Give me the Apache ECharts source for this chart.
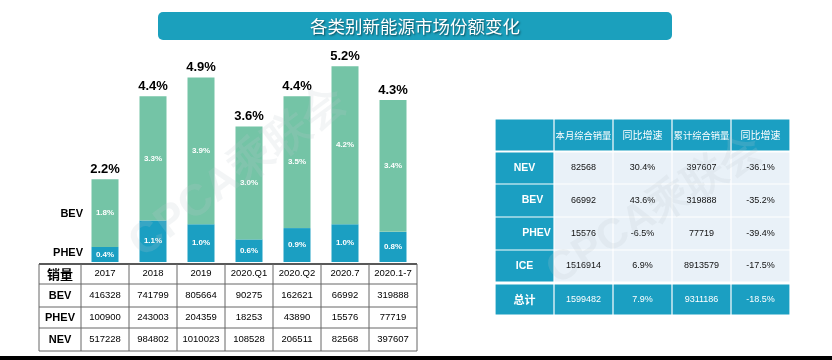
<!DOCTYPE html>
<html><head><meta charset="utf-8">
<script src="https://cdn.jsdelivr.net/npm/echarts@6/dist/echarts.min.js"></script>
<style>html,body{margin:0;padding:0;background:#fff}#c{width:832px;height:360px}</style>
</head><body><div id="c"></div>
<script>
// ---------- data ----------
const categories = ['2017','2018','2019','2020.Q1','2020.Q2','2020.7','2020.1-7'];
const bevShare = [1.8,3.3,3.9,3.0,3.5,4.2,3.5];
const bevShareLabels = ['1.8%','3.3%','3.9%','3.0%','3.5%','4.2%','3.4%'];
const phevShare = [0.4,1.1,1.0,0.6,0.9,1.0,0.8];
const totalShare = [2.2,4.4,4.9,3.6,4.4,5.2,4.3];
const bevSales = [416328,741799,805664,90275,162621,66992,319888];
const phevSales = [100900,243003,204359,18253,43890,15576,77719];
const nevSales = [517228,984802,1010023,108528,206511,82568,397607];
const leftTableCorner = '销量';
const leftTableRows = ['BEV','PHEV','NEV'];
const rightHeaders = ['','本月综合销量','同比增速','累计综合销量','同比增速'];
const rightRowNames = ['NEV','BEV','PHEV','ICE','总计'];
const monthSales = [82568,66992,15576,1516914,1599482];
const monthYoy = ['30.4%','43.6%','-6.5%','6.9%','7.9%'];
const cumSales = [397607,319888,77719,8913579,9311186];
const cumYoy = ['-36.1%','-35.2%','-39.4%','-17.5%','-18.5%'];
const titleText = '各类别新能源市场份额变化';
const watermark = 'CPCA乘联会';

// ---------- layout / style ----------
const TEAL = '#1b9fc2';
const GREEN = '#74c4a6';
const LATIN = '"Liberation Sans", Arial, sans-serif';
const CJK = '"Noto Sans CJK SC", sans-serif';
const g = [];

// title banner
g.push({type:'rect', shape:{x:158,y:12,width:514,height:28,r:5}, style:{fill:'#1ba0bd'}, z:1});
g.push({type:'text', x:415, y:26.5, style:{text:titleText, font:'17.5px '+CJK, fill:'#fff', align:'center', verticalAlign:'middle',
  textShadowColor:'rgba(0,0,0,0.55)', textShadowBlur:2, textShadowOffsetX:1, textShadowOffsetY:1}, z:2});

// left side legend-ish labels
g.push({type:'text', x:83, y:214, style:{text:'BEV', font:'bold 11px '+LATIN, fill:'#000', align:'right', verticalAlign:'middle'}});
g.push({type:'text', x:83, y:253, style:{text:'PHEV', font:'bold 11px '+LATIN, fill:'#000', align:'right', verticalAlign:'middle'}});

// left table
const colX = [39,81,129,177,225,273,321,369,417];
const rowY = [264,284,307,328,351];
const leftRowsData = [bevSales, phevSales, nevSales];
for (let i=0;i<rowY.length;i++){
  g.push({type:'line', shape:{x1:39,y1:rowY[i],x2:417,y2:rowY[i]}, style:{stroke: i===0?'#222':'#666', lineWidth: i===0?1.5:1}, z:5});
}
for (let j=0;j<colX.length;j++){
  g.push({type:'line', shape:{x1:colX[j],y1:264,x2:colX[j],y2:351}, style:{stroke:'#666', lineWidth:1}, z:5});
}
const cy = r => (rowY[r]+rowY[r+1])/2;
const cx = c => (colX[c]+colX[c+1])/2;
g.push({type:'text', x:cx(0), y:cy(0), style:{text:leftTableCorner, font:'bold 13px '+CJK, fill:'#000', align:'center', verticalAlign:'middle'}, z:6});
categories.forEach((c,k)=>{
  g.push({type:'text', x:cx(k+1), y:cy(0)-1, style:{text:c, font:'9.5px '+LATIN, fill:'#000', align:'center', verticalAlign:'middle'}, z:6});
});
leftTableRows.forEach((name,r)=>{
  g.push({type:'text', x:cx(0), y:cy(r+1), style:{text:name, font:'bold 11px '+LATIN, fill:'#000', align:'center', verticalAlign:'middle'}, z:6});
  leftRowsData[r].forEach((v,k)=>{
    g.push({type:'text', x:cx(k+1), y:cy(r+1), style:{text:String(v), font:'9.5px '+LATIN, fill:'#000', align:'center', verticalAlign:'middle'}, z:6});
  });
});

// right table
const rcX = [495,554,613,672,731,790];
const rrY = [[119,151],[152,184],[184,217],[217,250],[250,282],[284,315]];
const rowIndent = [0,8,12,0,0];
const rightCols = [monthSales, monthYoy, cumSales, cumYoy];
rrY.forEach((ry,r)=>{
  for (let c=0;c<5;c++){
    const header = r===0, total = r===rrY.length-1, first = c===0;
    const fill = (header||total||first) ? TEAL : '#e9f1f8';
    g.push({type:'rect', shape:{x:rcX[c]+0.6, y:ry[0]+0.6, width:rcX[c+1]-rcX[c]-1.2, height:ry[1]-ry[0]-1.2}, style:{fill}, z:3});
    let text='', font='9px '+LATIN, color='#111', dx=0;
    if (header){ text = rightHeaders[c]; font = (text.length>4?'9.3px ':'10px ')+CJK; color='#fff'; }
    else if (first){ text = rightRowNames[r-1]; font = (/[A-Z]/.test(text)?'bold 10.5px '+LATIN:'bold 11px '+CJK); color='#fff'; dx=rowIndent[r-1]; }
    else { text = String(rightCols[c-1][r-1]); if (total) color='#fff'; }
    if (text) g.push({type:'text', x:(rcX[c]+rcX[c+1])/2+dx, y:(ry[0]+ry[1])/2, style:{text, font, fill:color, align:'center', verticalAlign:'middle'}, z:4});
  }
});

// watermarks
g.push({type:'text', x:238, y:172, rotation:0.64, style:{text:watermark, font:'bold 44px '+LATIN, fill:'rgba(190,200,205,0.18)', align:'center', verticalAlign:'middle'}, z:20});
g.push({type:'text', x:655, y:210, rotation:0.56, style:{text:watermark, font:'bold 42px '+LATIN, fill:'rgba(190,200,205,0.18)', align:'center', verticalAlign:'middle'}, z:20});

// bottom black strip
g.push({type:'rect', shape:{x:0,y:356,width:832,height:4}, style:{fill:'#000'}, z:30});

const chart = echarts.init(document.getElementById('c'), null, {renderer:'canvas'});
chart.setOption({
  animation:false,
  backgroundColor:'#fff',
  grid:{left:81, width:336, top:36, bottom:98},
  xAxis:{type:'category', data:categories, axisLine:{show:false}, axisTick:{show:false}, axisLabel:{show:false}},
  yAxis:{type:'value', min:0, max:6, show:false},
  series:[
    {name:'PHEV', type:'bar', stack:'s', data:phevShare, barWidth:27, itemStyle:{color:TEAL},
      label:{show:true, position:'inside', color:'#fff', fontSize:8, fontWeight:'bold', fontFamily:'Liberation Sans', formatter:p=>p.value.toFixed(1)+'%'}},
    {name:'BEV', type:'bar', stack:'s', data:bevShare, barWidth:27, itemStyle:{color:GREEN},
      label:{show:true, position:'inside', color:'#fff', fontSize:8, fontWeight:'bold', fontFamily:'Liberation Sans', formatter:p=>bevShareLabels[p.dataIndex]}},
    {name:'NEV', type:'scatter', data:totalShare, symbolSize:0.1, itemStyle:{color:'#000', opacity:1},
      label:{show:true, position:'top', distance:3, color:'#000', opacity:1, textBorderWidth:0, fontSize:13, fontWeight:'bold', fontFamily:'Liberation Sans', formatter:p=>p.value.toFixed(1)+'%'}}
  ],
  graphic:g
});
</script></body></html>
